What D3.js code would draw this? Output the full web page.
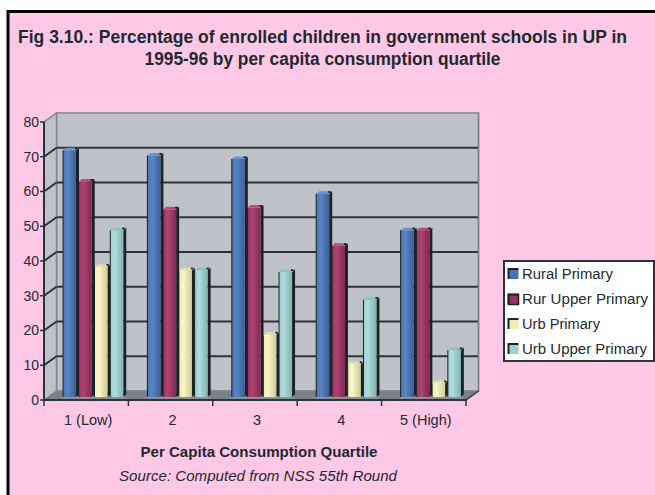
<!DOCTYPE html>
<html><head><meta charset="utf-8">
<script src="https://cdn.jsdelivr.net/npm/d3@7"></script>
<style>
html,body{margin:0;padding:0;background:#fff;}
svg{display:block;font-family:Arial,"Liberation Sans",sans-serif;}
</style></head>
<body>
<svg id="c" width="655" height="495"></svg>
<script>
const categories = ["1 (Low)", "2", "3", "4", "5 (High)"];
const seriesNames = ["Rural Primary", "Rur Upper Primary", "Urb Primary", "Urb Upper Primary"];
const ruralPrimary = [71, 69.5, 68.5, 58.5, 48];
const rurUpperPrimary = [62, 54, 54.5, 43.5, 48];
const urbPrimary = [37.5, 36.5, 18, 9.5, 4];
const urbUpperPrimary = [48, 36.5, 36, 28, 13.5];
const yTicks = [0, 10, 20, 30, 40, 50, 60, 70, 80];
const titleLines = ["Fig 3.10.: Percentage of enrolled children in government schools in UP in", "1995-96 by per capita consumption quartile"];
const xTitle = "Per Capita Consumption Quartile";
const sourceText = "Source: Computed from NSS 55th Round";

const seriesValues = [ruralPrimary, rurUpperPrimary, urbPrimary, urbUpperPrimary];
const colors = [
  {front:"#4672b0", light:"#5a86c4", dark:"#3a5f98", top:"#6a92cc"},
  {front:"#9c3263", light:"#ad4474", dark:"#822752", top:"#b24c7c"},
  {front:"#f1edb4", light:"#f8f5c8", dark:"#cfcb94", top:"#e2dfae"},
  {front:"#9ccfd0", light:"#b0dcdc", dark:"#80b3b4", top:"#88c2c4"}
];

const svg = d3.select("#c");
const ink = "#222a30";
const gridC = "#2b343a";
const edgeC = "#7e868e";

// squeeze/stretch a text to a target width
function fit(sel, w){
  sel.attr("textLength", w).attr("lengthAdjust","spacingAndGlyphs");
  return sel;
}

// background
svg.append("rect").attr("x",0).attr("y",0).attr("width",655).attr("height",495).attr("fill","#fff");
svg.append("rect").attr("x",8).attr("y",11.5).attr("width",660).attr("height",500)
  .attr("fill","#ffc8e6").attr("stroke","#000").attr("stroke-width",3);

// title
const titleW = [609, 356];
const titleY = [43, 64.5];
titleLines.forEach((s,i)=>{
  fit(svg.append("text").attr("font-weight","bold").attr("font-size",17.5).attr("fill",ink)
    .attr("text-anchor","middle").attr("x",322.5).attr("y",titleY[i]).text(s), titleW[i]);
});

const y = d3.scaleLinear().domain([0,80]).range([400,122]);
const x = d3.scaleBand().domain(categories).range([44,466]);
const DX = 12.5, DY = -9;

const g = svg.append("g");
// back wall
g.append("rect").attr("x",44+DX).attr("y",y(80)+DY).attr("width",422).attr("height",y(0)-y(80))
  .attr("fill","#c0c2ca").attr("stroke",edgeC).attr("stroke-width",1.5);
// left wall
g.append("path").attr("d",`M44,${y(0)}L44,${y(80)}L${44+DX},${y(80)+DY}L${44+DX},${y(0)+DY}Z`)
  .attr("fill","#c0c2ca").attr("stroke",edgeC).attr("stroke-width",1.5);
// gridlines
yTicks.filter(v=>v>0 && v<80).forEach(v=>{
  g.append("line").attr("x1",44+DX).attr("x2",466+DX).attr("y1",y(v)+DY).attr("y2",y(v)+DY)
    .attr("stroke",gridC).attr("stroke-width",2);
  g.append("line").attr("x1",44).attr("x2",44+DX).attr("y1",y(v)).attr("y2",y(v)+DY)
    .attr("stroke",gridC).attr("stroke-width",2);
});
// floor
g.append("path").attr("d",`M44,${y(0)}L466,${y(0)}L${466+DX},${y(0)+DY}L${44+DX},${y(0)+DY}Z`)
  .attr("fill","#7a8189").attr("stroke",edgeC).attr("stroke-width",1);
g.append("line").attr("x1",466+DX).attr("x2",466+DX).attr("y1",y(80)+DY).attr("y2",y(0)+DY).attr("stroke",edgeC).attr("stroke-width",1.5);

// gradients
const defs = svg.append("defs");
colors.forEach((c,i)=>{
  const lg = defs.append("linearGradient").attr("id","gr"+i).attr("x1","0").attr("x2","1").attr("y1","0").attr("y2","0");
  lg.append("stop").attr("offset","0").attr("stop-color",c.front);
  lg.append("stop").attr("offset","0.35").attr("stop-color",c.light);
  lg.append("stop").attr("offset","1").attr("stop-color",c.dark);
});

// bars
const inner = d3.scaleBand().domain(seriesNames).range([0,63]);
const faceW = 13, sideW = 3, sideH = 2.5, bShift = -3;
categories.forEach((cat,ci)=>{
  seriesNames.forEach((sn,si)=>{
    const v = seriesValues[si][ci];
    const xl = x(cat) + 19 + inner(sn);
    const top = y(v) + bShift, bot = y(0) + bShift;
    const c = colors[si];
    // base
    g.append("rect").attr("x",xl-1).attr("y",bot-1).attr("width",faceW+3).attr("height",2.5).attr("fill","#8f969c");
    // side
    g.append("path").attr("d",`M${xl+faceW},${bot}L${xl+faceW},${top}L${xl+faceW+sideW},${top-sideH}L${xl+faceW+sideW},${bot-sideH}Z`)
      .attr("fill","#1e2226");
    // front
    g.append("rect").attr("x",xl).attr("y",top).attr("width",faceW).attr("height",bot-top)
      .attr("fill",`url(#gr${si})`);
    g.append("line").attr("x1",xl).attr("x2",xl).attr("y1",top).attr("y2",bot).attr("stroke","#1e2226").attr("stroke-width",1);
    // top cap
    g.append("path").attr("d",`M${xl},${top}L${xl+faceW},${top}L${xl+faceW+sideW},${top-sideH}L${xl+sideW},${top-sideH}Z`)
      .attr("fill",c.top);
    g.append("rect").attr("x",xl+faceW-1).attr("y",top-sideH).attr("width",2.5).attr("height",1.6).attr("fill","#111");
  });
});

// y axis
g.append("line").attr("x1",44).attr("x2",44).attr("y1",y(80)).attr("y2",y(0)).attr("stroke",gridC).attr("stroke-width",2);
yTicks.forEach(v=>{
  g.append("line").attr("x1",40).attr("x2",44).attr("y1",y(v)).attr("y2",y(v)).attr("stroke",gridC).attr("stroke-width",1.5);
  g.append("text").attr("x",39).attr("y",y(v)).attr("dy","0.35em").attr("text-anchor","end")
    .attr("font-size",14).attr("fill",ink).text(v);
});
// x axis
g.append("line").attr("x1",43).attr("x2",467).attr("y1",y(0)).attr("y2",y(0)).attr("stroke",gridC).attr("stroke-width",2);
g.append("line").attr("x1",466).attr("x2",466+DX).attr("y1",y(0)).attr("y2",y(0)+DY).attr("stroke",gridC).attr("stroke-width",1.5);
const bounds = categories.map(c=>x(c)).concat([466]);
bounds.forEach(b=>{
  g.append("line").attr("x1",b).attr("x2",b).attr("y1",y(0)).attr("y2",y(0)+6).attr("stroke",gridC).attr("stroke-width",1.5);
});
categories.forEach(c=>{
  g.append("text").attr("x",x(c)+x.bandwidth()/2+2).attr("y",420).attr("dy","0.35em").attr("text-anchor","middle")
    .attr("font-size",14.5).attr("fill",ink).text(c);
});
fit(svg.append("text").attr("x",259).attr("y",452).attr("dy","0.35em").attr("text-anchor","middle")
  .attr("font-size",14).attr("font-weight","bold").attr("fill",ink).text(xTitle), 237);
fit(svg.append("text").attr("x",258).attr("y",476).attr("dy","0.35em").attr("text-anchor","middle")
  .attr("font-size",14).attr("font-style","italic").attr("fill",ink).text(sourceText), 278);

// legend
const lg = svg.append("g");
lg.append("rect").attr("x",504).attr("y",261).attr("width",150).attr("height",100).attr("fill","#fff")
  .attr("stroke",gridC).attr("stroke-width",2);
const ly = [274, 299.5, 324, 349];
const legW = [91, 126, 78, 125];
seriesNames.forEach((sn,i)=>{
  lg.append("rect").attr("x",508.5).attr("y",ly[i]-5).attr("width",10).attr("height",10).attr("fill",colors[i].front);
  lg.append("path").attr("d",`M508.5,${ly[i]+5}L508.5,${ly[i]-5}L518.5,${ly[i]-5}`).attr("fill","none").attr("stroke","#222").attr("stroke-width",2);
  if(i===1) lg.append("rect").attr("x",508.5).attr("y",ly[i]-5).attr("width",10).attr("height",10).attr("fill","none").attr("stroke","#222").attr("stroke-width",1.5);
  fit(lg.append("text").attr("x",522).attr("y",ly[i]).attr("dy","0.35em").attr("font-size",14).attr("fill",ink).text(sn), legW[i]);
});
</script>
</body></html>
